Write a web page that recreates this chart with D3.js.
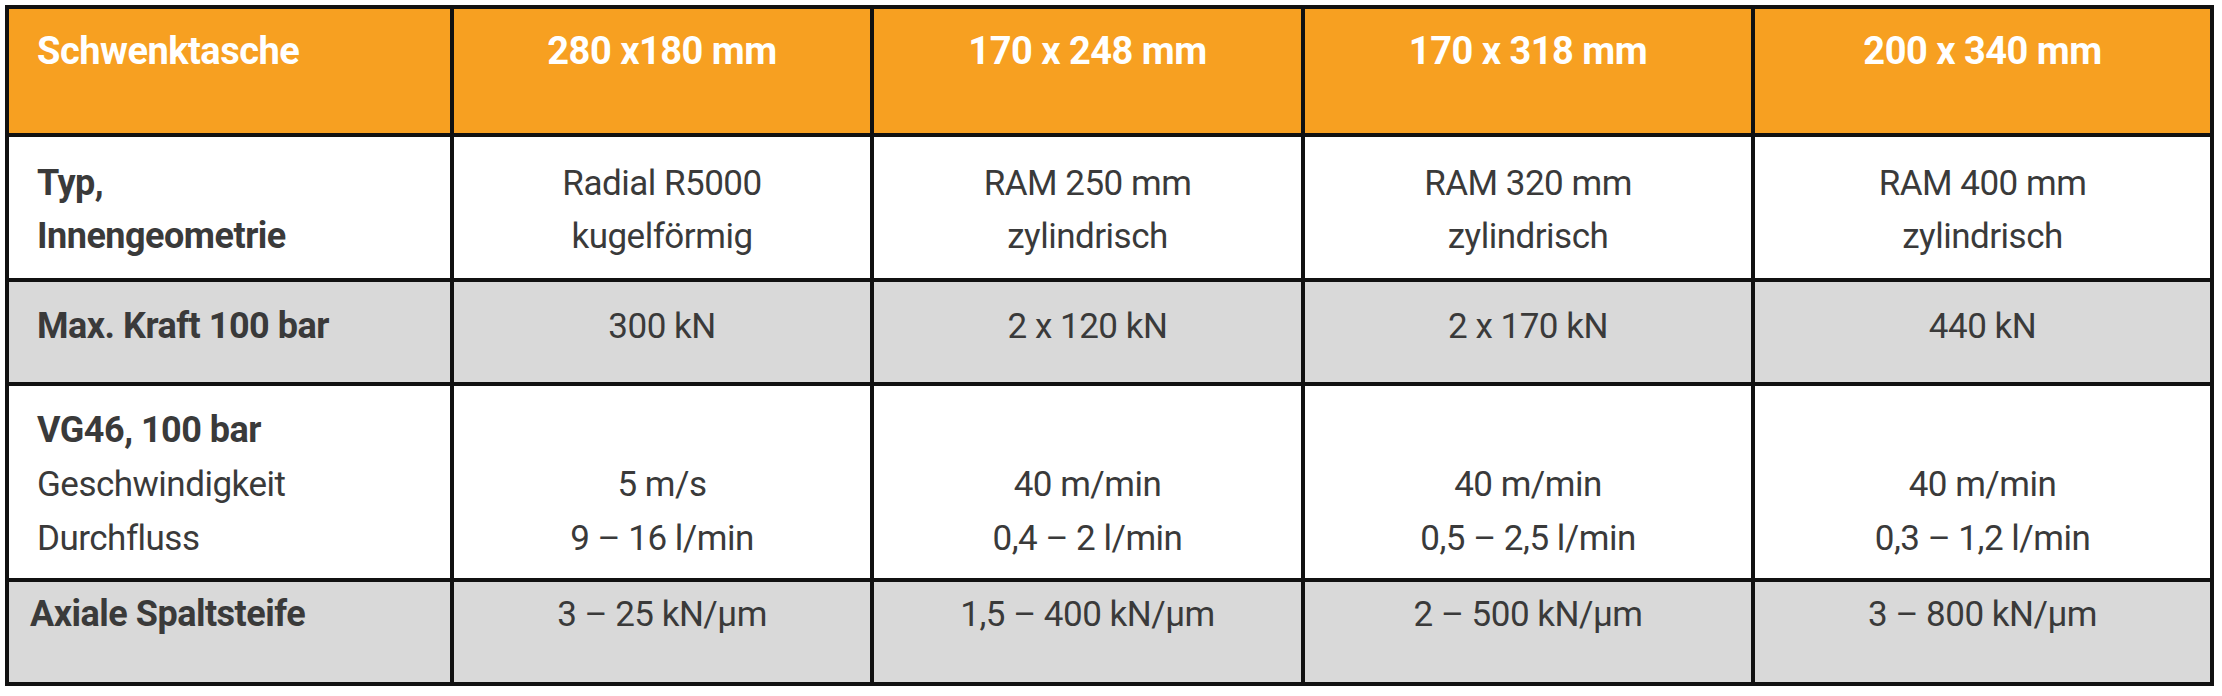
<!DOCTYPE html>
<html>
<head>
<meta charset="utf-8">
<script src="https://cdn.jsdelivr.net/npm/d3@7"></script>
<style>
  body { margin: 0; background: #fff; }
  text { font-family: Roboto, "Noto Sans", sans-serif; }
</style>
</head>
<body>
<div id="chart"></div>
<script>
// table content
const headers = ["Schwenktasche", "280 x180 mm", "170 x 248 mm", "170 x 318 mm", "200 x 340 mm"];
const rowLabels = [
    [["Typ,", true], ["Innengeometrie", true]],
    [["Max. Kraft 100 bar", true]],
    [["VG46, 100 bar", true], ["Geschwindigkeit", false], ["Durchfluss", false]],
    [["Axiale Spaltsteife", true]]
];
const typ = [["Radial R5000", "kugelförmig"], ["RAM 250 mm", "zylindrisch"], ["RAM 320 mm", "zylindrisch"], ["RAM 400 mm", "zylindrisch"]];
const kraft = ["300 kN", "2 x 120 kN", "2 x 170 kN", "440 kN"];
const geschw = ["5 m/s", "40 m/min", "40 m/min", "40 m/min"];
const durchfluss = ["9 – 16 l/min", "0,4 – 2  l/min", "0,5 – 2,5 l/min", "0,3 – 1,2 l/min"];
const steife = ["3 – 25 kN/µm", "1,5 – 400 kN/µm", "2 – 500 kN/µm", "3 – 800 kN/µm"];

const rowValues = [typ, kraft.map(d => [d]), geschw.map((d, i) => [null, d, durchfluss[i]]), steife.map(d => [d])];
const rowFill = ["#ffffff", "#d9d9d9", "#ffffff", "#d9d9d9"];

const width = 2222, height = 696;
const colEdges = [7, 452, 872, 1303, 1753, 2212];
const rowEdges = [7, 135, 280, 384, 580, 684];
// baselines per row (first line) and line spacing
const baseY = [[195, 248], [338], [442, 496, 550], [626]];

const svg = d3.select("#chart").append("svg")
    .attr("width", width).attr("height", height);

const cols = d3.range(headers.length);
const x0 = i => colEdges[i], x1 = i => colEdges[i + 1];
const cx = i => (x0(i) + x1(i)) / 2;

// backgrounds
svg.append("g").selectAll("rect")
    .data(cols)
    .join("rect")
    .attr("x", i => x0(i)).attr("y", rowEdges[0])
    .attr("width", i => x1(i) - x0(i)).attr("height", rowEdges[1] - rowEdges[0])
    .attr("fill", "#f7a021");

rowFill.forEach((f, r) => {
    svg.append("rect")
        .attr("x", colEdges[0]).attr("y", rowEdges[r + 1])
        .attr("width", colEdges[5] - colEdges[0]).attr("height", rowEdges[r + 2] - rowEdges[r + 1])
        .attr("fill", f);
});

// header text
svg.append("g").selectAll("text")
    .data(headers)
    .join("text")
    .attr("x", (d, i) => i === 0 ? 37 : cx(i))
    .attr("y", 64)
    .attr("text-anchor", (d, i) => i === 0 ? "start" : "middle")
    .attr("fill", "#fff")
    .attr("font-weight", "bold")
    .attr("font-size", 38)
    .attr("letter-spacing", -0.5)
    .text(d => d);

// row labels
rowLabels.forEach((lines, r) => {
    lines.forEach(([t, bold], k) => {
        svg.append("text")
            .attr("x", r === 3 ? 30 : 37)
            .attr("y", baseY[r][k])
            .attr("fill", "#3a3a3a")
            .attr("font-weight", bold ? "bold" : "normal")
            .attr("font-size", bold ? 36 : 35)
            .attr("letter-spacing", -0.5)
            .text(t);
    });
});

// values
rowValues.forEach((vals, r) => {
    vals.forEach((lines, c) => {
        lines.forEach((t, k) => {
            if (!t) return;
            svg.append("text")
                .attr("x", cx(c + 1))
                .attr("y", baseY[r][k])
                .attr("text-anchor", "middle")
                .attr("fill", "#3a3a3a")
                .attr("font-size", 35)
                .attr("letter-spacing", -0.5)
                .text(t);
        });
    });
});

// grid lines
const g = svg.append("g").attr("stroke", "#111").attr("stroke-width", 4);
colEdges.forEach(x => g.append("line").attr("x1", x).attr("x2", x).attr("y1", rowEdges[0]).attr("y2", rowEdges[5]));
rowEdges.forEach(y => g.append("line").attr("x1", colEdges[0] - 2).attr("x2", colEdges[5] + 2).attr("y1", y).attr("y2", y));
</script>
</body>
</html>
